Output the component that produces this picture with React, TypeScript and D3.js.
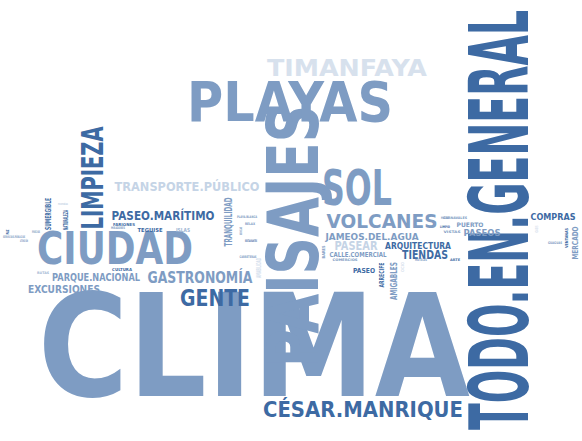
import React from "react";
import * as d3 from "d3";

// word cloud: terms and how often they were mentioned
const words = [
  "CLIMA", "TODO.EN.GENERAL", "PAISAJES", "PLAYAS", "SOL", "CIUDAD", "LIMPIEZA",
  "TIMANFAYA", "GENTE", "CÉSAR.MANRIQUE", "VOLCANES", "GASTRONOMÍA",
  "TRANSPORTE.PÚBLICO", "PASEO.MARÍTIMO", "TIENDAS", "PASEAR", "PARQUE.NACIONAL",
  "EXCURSIONES", "TRANQUILIDAD", "ARQUITECTURA", "JAMEOS.DEL.AGUA", "COMPRAS",
  "AMIGABLES", "SUMERGIBLE", "PASEOS", "MERCADO", "CALLE.COMERCIAL", "PASEO",
  "ARRECIFE", "NATURALEZA", "PUERTO", "TEGUISE", "ISLAS", "AMABILIDAD",
  "FARIONES", "MIRADORES", "CULTURA", "PLAYA.BLANCA", "RELAX", "BODEGAS",
  "RESTAURANTES", "CARRETERAS", "COMERCIOS", "BARES", "OCIO", "HOTELES",
  "MUSEOS", "CARNAVALES", "LIMPIO", "VISTAS", "ARTE", "OASIS", "GUAGUAS",
  "VENTANAS", "SERVICIOS.PÚBLICOS", "ATENCIÓN", "PRECIOS", "PAZ", "MONTAÑAS", "RUTAS",
];
const frequencies = [
  104, 60, 52, 40, 36, 33, 22,
  17, 17, 15, 14, 11,
  9, 9, 9, 9, 8,
  8, 8, 7, 7, 7,
  7, 6, 6, 6, 5, 5,
  5, 5, 4.5, 4, 4, 5,
  3, 2.5, 3, 2.5, 2.5, 2.5,
  2.5, 2.5, 2.5, 3, 3, 2.5,
  2.5, 2.5, 2.5, 2.5, 2.5, 3, 2.5,
  3, 2.5, 2.5, 2.5, 3, 2, 2.5,
];

// placement of each word: centre, rotation, drawn length, tone
const layout: [number, number, number, number, string][] = [
  [254, 344, 0, 432, "mid"], [498, 220, -90, 420, "dark"], [292, 236, -90, 262, "mid"],
  [290, 101, 0, 206, "mid"], [357, 187, 0, 70, "mid"], [115, 247, 0, 156, "mid"],
  [92, 178, -90, 103, "dark"], [347, 67, 0, 160, "pale"], [215, 297, 0, 70, "dark"],
  [363, 409, 0, 200, "dark"], [382, 221, 0, 111, "mid"], [200, 277, 0, 105, "mid"],
  [187, 186, 0, 145, "light"], [163, 215, 0, 103, "dark"], [425, 254, 0, 46, "dark"],
  [356, 245, 0, 43, "light"], [96, 277, 0, 88, "mid"], [64, 289, 0, 72, "mid"],
  [228, 222, -90, 49, "mid"], [418, 245, 0, 66, "dark"], [372, 236, 0, 93, "mid"],
  [553, 216, 0, 45, "dark"], [393, 281, -90, 38, "mid"], [48, 214, -90, 32, "dark"],
  [482, 233, 0, 37, "mid"], [575, 243, -90, 33, "mid"], [358, 254, 0, 57, "mid"],
  [364, 270, 0, 22, "dark"], [381, 275, -90, 25, "dark"], [65, 220, -90, 20, "dark"],
  [470, 225, 0, 27, "mid"], [150, 230, 0, 25, "dark"], [183, 230, 0, 14, "soft"],
  [258, 268, -90, 20, "pale"], [124, 224, 0, 22, "dark"], [118, 228, 0, 14, "mid"],
  [122, 269, 0, 20, "dark"], [247, 217, 0, 20, "mid"], [250, 224, 0, 10, "mid"],
  [241, 231, -90, 8, "mid"], [251, 241, 0, 12, "dark"], [248, 257, 0, 17, "mid"],
  [345, 260, 0, 25, "mid"], [323, 252, -90, 13, "mid"], [402, 267, -90, 10, "pale"],
  [421, 260, 0, 12, "mid"], [445, 218, 0, 8, "mid"], [455, 218, 0, 24, "mid"],
  [445, 227, 0, 10, "dark"], [452, 232, 0, 17, "mid"], [455, 260, 0, 10, "dark"],
  [536, 229, -90, 7, "pale"], [555, 243, 0, 14, "mid"], [566, 238, -90, 20, "dark"],
  [14, 237, 0, 22, "mid"], [24, 241, 0, 8, "mid"], [36, 232, 0, 8, "mid"],
  [7, 232, -90, 5, "dark"], [63, 204, 0, 10, "light"], [43, 273, 0, 12, "soft"],
];

const tones: Record<string, string> = {
  dark: "#3d6aa3",
  mid: "#7e9cc3",
  soft: "#9fb6d3",
  light: "#c5d4e6",
  pale: "#d7e1ed",
};

const width = 582;
const height = 441;
const FONT = "'DejaVu Sans', sans-serif";

// natural width of a word, so it can be stretched to its slot
const ctx = document.createElement("canvas").getContext("2d");
function measure(text: string, fs: number) {
  if (!ctx) return text.length * fs * 0.75;
  ctx.font = `bold ${fs}px ${FONT}`;
  return ctx.measureText(text).width;
}

export default function App() {
  const x = d3.scaleLinear().domain([0, 582]).range([0, width]);
  const y = d3.scaleLinear().domain([0, 441]).range([0, height]);
  // font size so that the cap height follows the frequency
  const size = d3.scaleLinear().domain([0, 100]).range([0, 137]);

  return (
    <svg
      width={width}
      height={height}
      style={{ position: "absolute", left: 0, top: 0, background: "#fff" }}
      fontFamily={FONT}
      fontWeight="bold"
    >
      {words.map((w, i) => {
        const [cx, cy, rot, len, tone] = layout[i];
        const fs = size(frequencies[i]);
        const sx = x(len) / measure(w, fs);
        return (
          <text
            key={w}
            transform={`translate(${x(cx)},${y(cy)}) rotate(${rot}) scale(${sx},1)`}
            y={fs * 0.365}
            textAnchor="middle"
            fontSize={fs}
            fill={tones[tone]}
          >
            {w}
          </text>
        );
      })}
    </svg>
  );
}
